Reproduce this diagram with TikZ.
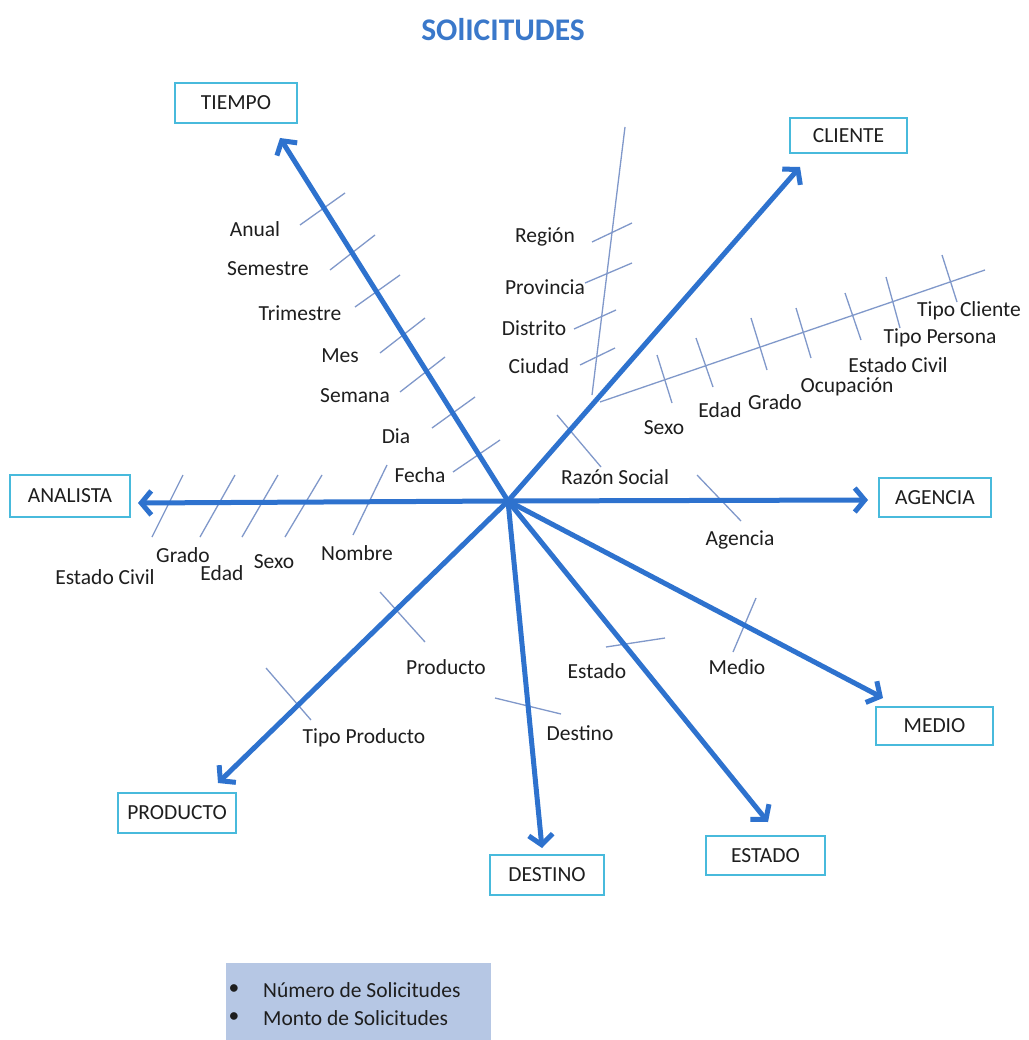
\documentclass[tikz,border=0pt]{standalone}
\usepackage{fontspec}
\setmainfont{Carlito}
\usetikzlibrary{arrows.meta}
\definecolor{axisblue}{RGB}{46,114,206}
\definecolor{tickblue}{RGB}{128,152,202}
\definecolor{boxcyan}{RGB}{72,186,220}
\definecolor{legendfill}{RGB}{182,199,228}
\definecolor{titleblue}{RGB}{58,120,202}
\definecolor{ink}{RGB}{30,30,30}
\begin{document}
\begin{tikzpicture}[x=1pt,y=-1pt,
  dimbox/.style={draw=boxcyan, line width=2.8pt, fill=white, text=ink,
    inner sep=0pt, font=\fontsize{21.5}{24}\selectfont},
  axis/.style={draw=axisblue, line width=5pt,
    -{Straight Barb[length=10pt,width=24pt]}},
  tickline/.style={draw=tickblue, line width=1.3pt},
  lbl/.style={text=ink, inner sep=0pt, font=\fontsize{21.5}{25}\selectfont}]
\useasboundingbox (0,0) rectangle (1028,1040);
\fill[white] (0,0) rectangle (1028,1040);

% title
\node[text=titleblue, font=\bfseries\fontsize{31.5}{36}\selectfont] (title) at (503,30) {SOlICITUDES};

% dimension boxes
\node[dimbox, minimum width=122pt, minimum height=40pt] (tiempo)   at (236,103)   {TIEMPO};
\node[dimbox, minimum width=117pt, minimum height=35pt] (cliente)  at (848.5,135.5) {CLIENTE};
\node[dimbox, minimum width=120pt, minimum height=42pt] (analista) at (70,496)    {ANALISTA};
\node[dimbox, minimum width=112pt, minimum height=39pt] (agencia)  at (935,497.5) {AGENCIA};
\node[dimbox, minimum width=117pt, minimum height=38pt] (medio)    at (934.5,726) {MEDIO};
\node[dimbox, minimum width=119pt, minimum height=39pt] (estado)   at (765.5,855.5) {ESTADO};
\node[dimbox, minimum width=114pt, minimum height=40pt] (destino)  at (547,875)   {DESTINO};
\node[dimbox, minimum width=118pt, minimum height=40pt] (producto) at (177,813)   {PRODUCTO};

% centre and arrow tips
\coordinate (c) at (508,501);
\coordinate (tTiempo)   at (280,138);
\coordinate (tCliente)  at (800,167);
\coordinate (tAgencia)  at (868,500);
\coordinate (tAnalista) at (138,503);
\coordinate (tMedio)    at (883,698);
\coordinate (tEstado)   at (768,822);
\coordinate (tDestino)  at (542,848);
\coordinate (tProducto) at (218,783);

% hierarchy ticks (drawn first, under the axes)
% tiempo
\draw[tickline] (300,225) -- (345,193);
\draw[tickline] (330,270) -- (375,235);
\draw[tickline] (355,307) -- (400,275);
\draw[tickline] (380,353) -- (425,318);
\draw[tickline] (400,392) -- (445,357);
\draw[tickline] (432,428) -- (475,397);
\draw[tickline] (453,472) -- (500,440);
% analista
\draw[tickline] (152,537) -- (183,475);
\draw[tickline] (200,537) -- (235,475);
\draw[tickline] (242,537) -- (278,475);
\draw[tickline] (285,537) -- (322,475);
\draw[tickline] (353,535) -- (387,465);
% cliente: geography branch
\draw[tickline] (592,395) -- (625,127);
\draw[tickline] (592,242) -- (632,223);
\draw[tickline] (585,283) -- (632,263);
\draw[tickline] (574,329) -- (616,310);
\draw[tickline] (580,365) -- (615,348);
% cliente: person branch
\draw[tickline] (600,402) -- (985,270);
\draw[tickline] (657,355) -- (672,403);
\draw[tickline] (696,338) -- (713,387);
\draw[tickline] (751,318) -- (767,370);
\draw[tickline] (796,308) -- (811,358);
\draw[tickline] (845,293) -- (861,340);
\draw[tickline] (886,277) -- (900,328);
\draw[tickline] (942,255) -- (957,302);
% cliente: razon social
\draw[tickline] (557,415) -- (601,467);
% agencia
\draw[tickline] (697,475) -- (741,521);
% medio
\draw[tickline] (756,598) -- (733,652);
% estado
\draw[tickline] (606,647) -- (665,638);
% destino
\draw[tickline] (495,698) -- (561,714);
% producto
\draw[tickline] (380,592) -- (425,642);
\draw[tickline] (266,668) -- (311,720);

% axes
\draw[axis] (c) -- (tTiempo);
\draw[axis] (c) -- (tCliente);
\draw[axis] (c) -- (tAgencia);
\draw[axis] (c) -- (tAnalista);
\draw[axis] (c) -- (tMedio);
\draw[axis] (c) -- (tEstado);
\draw[axis] (c) -- (tDestino);
\draw[axis] (c) -- (tProducto);

% level labels: tiempo
\node[lbl] (lAnual)     at (255,229) {Anual};
\node[lbl] (lSemestre)  at (268,269) {Semestre};
\node[lbl] (lTrimestre) at (300,313) {Trimestre};
\node[lbl] (lMes)       at (340,356) {Mes};
\node[lbl] (lSemana)    at (355,396) {Semana};
\node[lbl] (lDia)       at (396,436) {Dia};
\node[lbl] (lFecha)     at (420,475) {Fecha};
% analista
\node[lbl] (lAEstado) at (105,577) {Estado Civil};
\node[lbl] (lAGrado)  at (183,555) {Grado};
\node[lbl] (lAEdad)   at (222,573) {Edad};
\node[lbl] (lASexo)   at (274,562) {Sexo};
\node[lbl] (lNombre)  at (357,553) {Nombre};
% cliente
\node[lbl] (lRegion)    at (545,237) {Región};
\node[lbl] (lProvincia) at (545,287) {Provincia};
\node[lbl] (lDistrito)  at (534,328) {Distrito};
\node[lbl] (lCiudad)    at (539,366) {Ciudad};
\node[lbl] (lCSexo)     at (664,428) {Sexo};
\node[lbl] (lCEdad)     at (720,410) {Edad};
\node[lbl] (lCGrado)    at (775,402) {Grado};
\node[lbl] (lOcupacion) at (847,387) {Ocupación};
\node[lbl] (lCEstado)   at (898,365) {Estado Civil};
\node[lbl] (lTPersona)  at (940,338) {Tipo Persona};
\node[lbl] (lTCliente)  at (969,311) {Tipo Cliente};
\node[lbl] (lRazon)     at (615,477) {Razón Social};
% remaining dimensions
\node[lbl] (lAgencia)  at (740,540) {Agencia};
\node[lbl] (lMedio)    at (737,667) {Medio};
\node[lbl] (lEstado)   at (597,671) {Estado};
\node[lbl] (lDestino)  at (580,733) {Destino};
\node[lbl] (lProducto) at (446,667) {Producto};
\node[lbl] (lTProd)    at (364,738) {Tipo Producto};

% measures
\fill[legendfill] (226,963) rectangle (491,1040);
\node[lbl] (b1) at (234,990) {\textbullet};
\node[lbl, anchor=west] (m1) at (263,990) {Número de Solicitudes};
\node[lbl] (b2) at (234,1018) {\textbullet};
\node[lbl, anchor=west] (m2) at (263,1018) {Monto de Solicitudes};
\end{tikzpicture}
\end{document}
